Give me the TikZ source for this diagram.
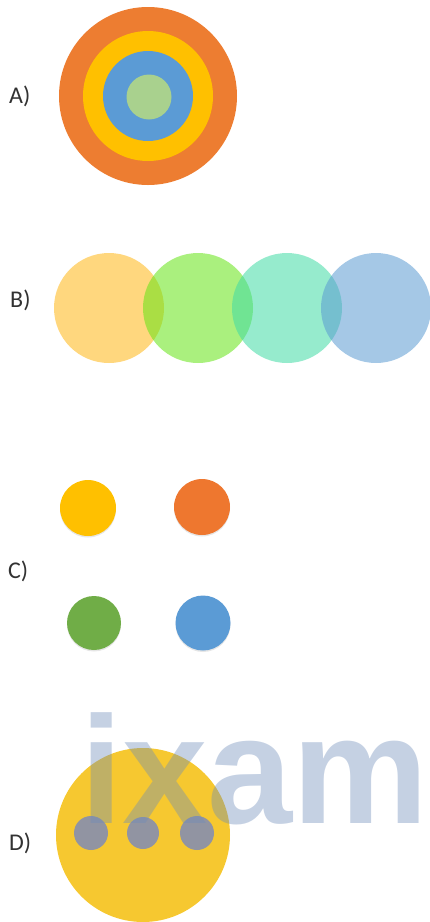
\documentclass[tikz,border=0pt]{standalone}
\usepackage{fontspec}
\setmainfont{Carlito}
\newfontfamily\markfont{Liberation Sans}
\usetikzlibrary{positioning,shadows}
\definecolor{ofyellow}{RGB}{255,192,0}
\definecolor{oforange}{RGB}{237,125,49}
\definecolor{ofblue}{RGB}{91,155,213}
\definecolor{ofgreen}{RGB}{112,173,71}
\definecolor{ofsage}{RGB}{169,209,142}
\definecolor{labelgray}{RGB}{50,50,50}
\definecolor{bcyellow}{RGB}{255,182,20}
\definecolor{bcgreen}{RGB}{100,228,20}
\definecolor{bcteal}{RGB}{64,219,164}
\definecolor{bcblue}{RGB}{91,155,210}
\definecolor{smiley}{RGB}{246,200,48}
\definecolor{dotgray}{RGB}{145,148,162}
\definecolor{markblue}{RGB}{110,140,185}

\begin{document}
\begin{tikzpicture}[x=1pt, y=-1pt,
  disc/.style={circle, inner sep=0pt, minimum size=#1},
  tag/.style={anchor=west, text=labelgray, inner sep=0pt, font=\fontsize{24}{24}\selectfont},
  veil/.style={disc=110pt, fill opacity=0.55},
  dot/.style={disc=#1, drop shadow={opacity=0.2, shadow xshift=0pt, shadow yshift=-1.5pt}},
]
\useasboundingbox (0,0) rectangle (430,922);

% A) target
\node[disc=178pt, fill=oforange] (outer) at (148,96) {};
\node[disc=130pt, fill=ofyellow] (mid) at (outer) {};
\node[disc=90pt, fill=ofblue] (inner) at (outer) {};
\node[disc=45pt, fill=ofsage] (core) at (149,97) {};
\node[tag] (lblA) at (9,96) {A)};

% B) overlapping row
\node[veil, fill=bcyellow] (b1) at (109,308) {};
\node[veil, fill=bcgreen] (b2) at (198,308) {};
\node[veil, fill=bcteal] (b3) at (287,308) {};
\node[veil, fill=bcblue] (b4) at (376,308) {};
\node[tag] (lblB) at (10,300) {B)};

% C) four dots
\node[dot=56pt, fill=ofyellow] (c1) at (88,508) {};
\node[dot=56pt, fill=oforange!95!red] (c2) at (202,507) {};
\node[dot=54pt, fill=ofgreen] (c3) at (94,623) {};
\node[dot=55pt, fill=ofblue] (c4) at (203,623) {};
\node[tag] (lblC) at (8,571) {C)};

% D) face with three dots
\node[disc=174pt, fill=smiley] (face) at (143,835) {};
\node[disc=34pt, fill=dotgray] (d1) at (91,833) {};
\node[disc=32pt, fill=dotgray] (d2) at (143,833) {};
\node[disc=34pt, fill=dotgray] (d3) at (197,833) {};
\node[tag] (lblD) at (9,843) {D)};

% watermark
\node[anchor=base west, inner sep=0pt, text=markblue, text opacity=0.4,
      font=\markfont\bfseries\fontsize{153}{153}\selectfont] (mark) at (80,823) {ixam};
\end{tikzpicture}
\end{document}
